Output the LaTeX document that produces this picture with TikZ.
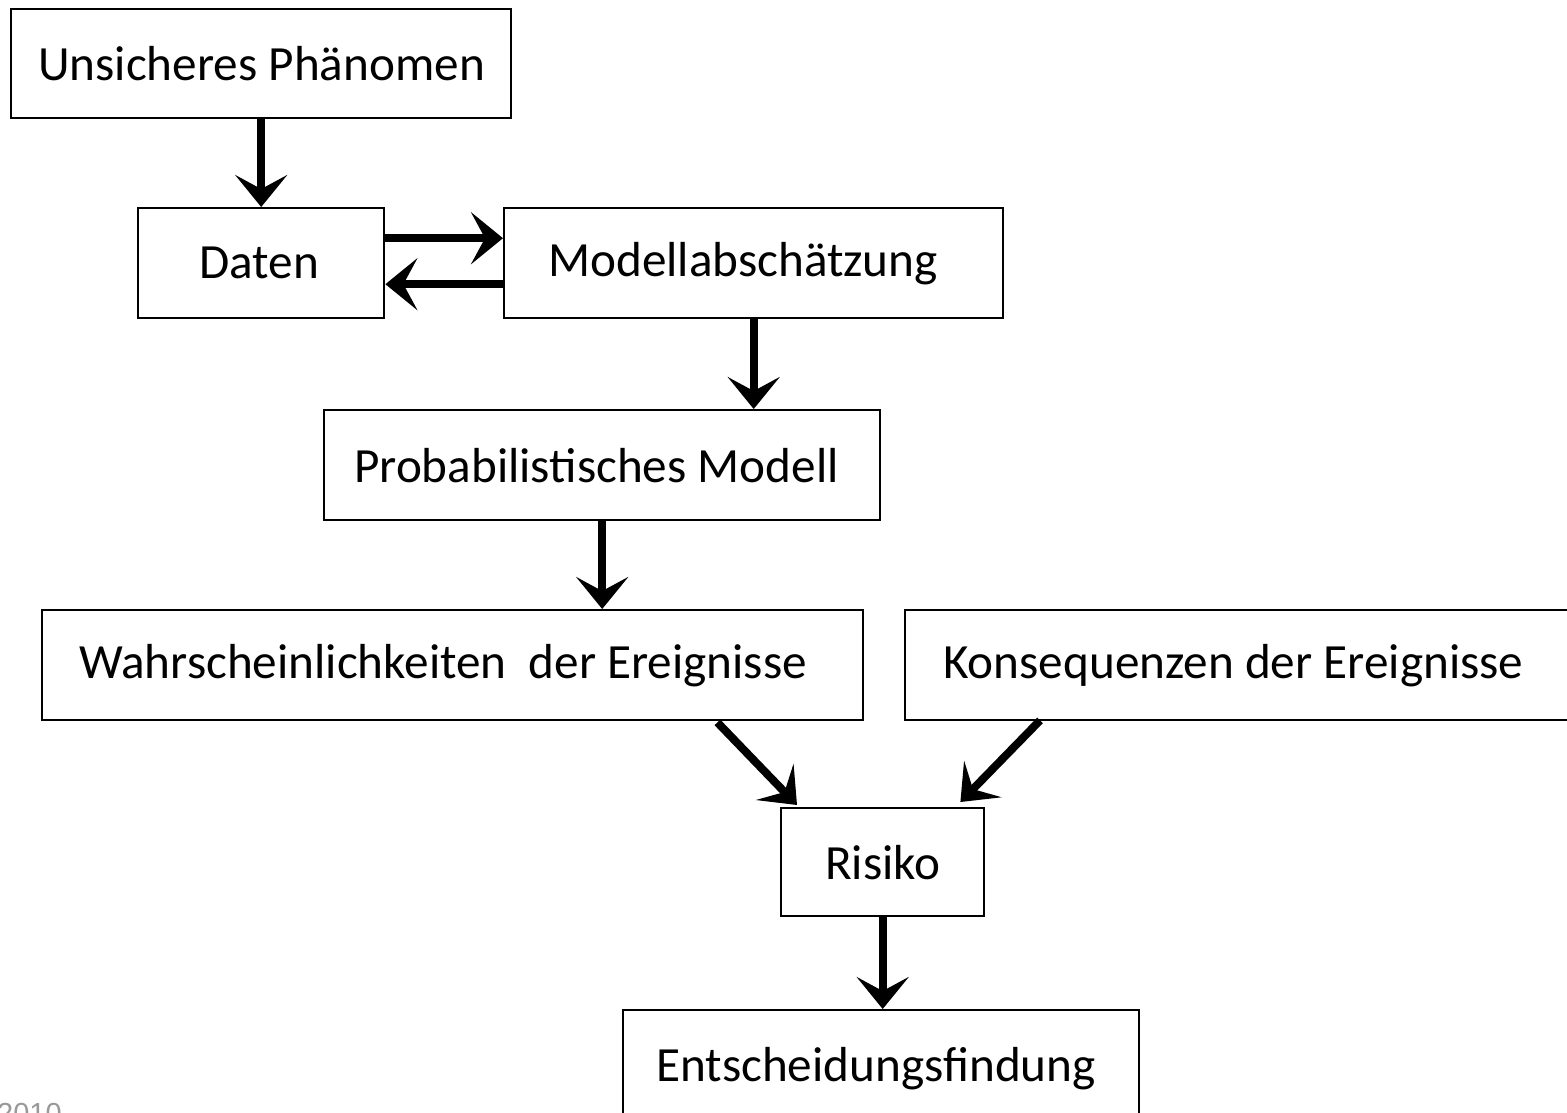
\documentclass[tikz,border=0pt]{standalone}
\usepackage{fontspec}
\setmainfont{Carlito}
\newfontfamily\graysans{Liberation Sans}
\usetikzlibrary{arrows.meta,calc}
\newcommand\lbx[2]{\makebox[#1][l]{#2}}
\tikzset{
  box/.style={draw=black, line width=2.4pt, fill=white, rectangle, anchor=north west,
    font=\fontsize{49.2}{58}\selectfont, inner ysep=0pt},
  arr/.style={line width=8pt, -{Stealth[length=32pt, width=52pt, inset=14pt]}}
}
\begin{document}
\begin{tikzpicture}[x=1pt, y=-1pt]
\useasboundingbox (0,0) rectangle (1567,1112);
\node[box, inner xsep=27pt, minimum height=109pt] (u) at (10,8) {\lbx{446pt}{Unsicheres Phänomen}};
\node[box, inner xsep=61pt, minimum height=110pt] (d) at (137,207) {\lbx{124pt}{Daten}};
\node[box, inner xsep=44pt, minimum height=110pt] (m) at (503,207) {\lbx{411pt}{Modellabschätzung}};
\node[box, inner xsep=30pt, minimum height=110pt] (p) at (323,409) {\lbx{496pt}{Probabilistisches Modell}};
\node[box, inner xsep=37pt, minimum height=110pt] (w) at (41,609) {\lbx{747pt}{Wahrscheinlichkeiten~ der Ereignisse}};
\node[box, inner xsep=38pt, minimum height=110pt] (k) at (904,609) {\lbx{620pt}{Konsequenzen der Ereignisse}};
\node[box, inner xsep=44pt, minimum height=108pt] (r) at (780,807) {\lbx{115pt}{Risiko}};
\node[box, inner xsep=33pt, minimum height=116pt] (e) at (622,1009) {\lbx{450pt}{Entscheidungsfindung}};
\node[anchor=base west, inner sep=0pt, text=black!40, font=\graysans\fontsize{29}{34}\selectfont] (yr) at (-3,1123) {2010};
\draw[arr] (u.south) -- (d.north);
\draw[arr] ([yshift=25pt]d.east) -- ([yshift=25pt]d.east -| m.west);
\draw[arr] ([yshift=-21pt]d.east -| m.west) -- ([yshift=-21pt]d.east);
\draw[arr] (m.south) -- (m.south |- p.north);
\draw[arr] (p.south) -- (p.south |- w.north);
\draw[arr] ($(w.south east)+(-147,1)$) -- ($(r.north west)+(17,-2)$);
\draw[arr] ($(k.south west)+(136,-1)$) -- ($(r.north east)+(-25,-5)$);
\draw[arr] (r.south) -- (r.south |- e.north);
\end{tikzpicture}
\end{document}
